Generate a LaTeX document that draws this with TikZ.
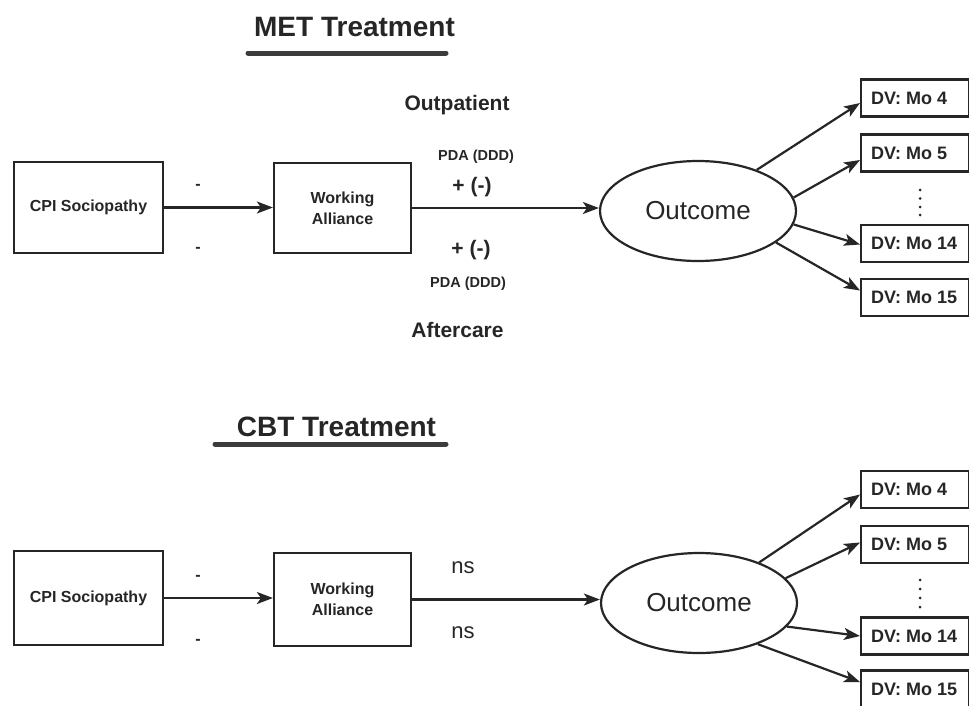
\documentclass[tikz,border=0pt]{standalone}
\usepackage{fontspec}
\setmainfont{Liberation Sans}
\usetikzlibrary{shapes.geometric,arrows.meta}
\definecolor{ink}{HTML}{262626}
\newcommand{\dvtext}[1]{\makebox[88pt][l]{#1}}
\begin{document}
\begin{tikzpicture}[x=1pt,y=-1pt,
  every node/.style={text=ink},
  box/.style={draw=ink, line width=2.2pt, inner sep=0pt, align=center,
    font=\bfseries\fontsize{16}{21}\selectfont},
  dvbox/.style={draw=ink, line width=2.2pt, anchor=west, minimum width=108pt,
    inner xsep=10pt, inner ysep=0pt, minimum height=37pt,
    font=\bfseries\fontsize{18}{20}\selectfont},
  outc/.style={ellipse, draw=ink, line width=2.2pt, inner sep=0pt,
    minimum width=196pt, minimum height=100pt,
    font=\fontsize{26}{28}\selectfont},
  arr/.style={draw=ink, line width=2.2pt,
    -{Stealth[length=16pt,width=12pt,inset=4pt]}},
  title/.style={font=\bfseries\fontsize{28}{30}\selectfont},
  bar/.style={draw=ink!90, line width=5pt, line cap=round},
  lbl/.style={font=\bfseries\fontsize{21}{24}\selectfont},
  small/.style={font=\bfseries\fontsize{14.5}{16}\selectfont},
  sign/.style={font=\bfseries\fontsize{16}{18}\selectfont},
  nsl/.style={font=\fontsize{22}{24}\selectfont},
  vdots/.style={fill=ink, circle, inner sep=0pt, minimum size=3pt}
]
\useasboundingbox (0,0) rectangle (969,705);

% ===================== MET =====================
\node[title] (t1) at (354.5,27) {MET Treatment};
\coordinate (b1l) at (248,53);
\coordinate (b1r) at (446,53);
\draw[bar] (b1l) -- (b1r);

\node[box, minimum width=149pt, minimum height=91pt] (cpi1) at (88.5,207.5) {CPI Sociopathy};
\node[box, minimum width=137pt, minimum height=90pt] (wa1) at (342.5,208) {Working\\Alliance};
\node[outc] (o1) at (698,211) {Outcome};

\node[dvbox] (d11) at (860,98) {\dvtext{DV: Mo 4}};
\node[dvbox] (d12) at (860,153) {\dvtext{DV: Mo 5}};
\node[dvbox] (d13) at (860,243.5) {\dvtext{DV: Mo 14}};
\node[dvbox] (d14) at (860,297.5) {\dvtext{DV: Mo 15}};

\draw[arr] (cpi1.east) -- (cpi1.east -| wa1.west);
\draw[arr] (wa1.east) -- (wa1.east -| o1.west);

\draw[arr] (o1.35) -- ([yshift=-5pt]d11.west);
\draw[arr] (o1.8) -- ([yshift=-7pt]d12.west);
\draw[arr] (o1.-8) -- ([yshift=-1pt]d13.west);
\draw[arr] (o1.-22) -- ([yshift=7pt]d14.west);

\node[sign] (m11) at (198,187) {-};
\node[sign] (m12) at (198,250) {-};
\node[lbl] (op) at (457,105) {Outpatient};
\node[small] (p11) at (476,157) {PDA (DDD)};
\node[lbl] (s11) at (472,187) {+ (-)};
\node[lbl] (s12) at (471,250) {+ (-)};
\node[small] (p12) at (468,284) {PDA (DDD)};
\node[lbl] (ac) at (457.5,330) {Aftercare};

\foreach \yy [count=\i] in {190,198.5,207,215}
  \node[vdots] (dt1\i) at (920,\yy) {};

% ===================== CBT =====================
\node[title] (t2) at (336.5,427) {CBT Treatment};
\coordinate (b2l) at (215,444);
\coordinate (b2r) at (446,444);
\draw[bar] (b2l) -- (b2r);

\node[box, minimum width=149pt, minimum height=94pt] (cpi2) at (88.5,598) {CPI Sociopathy};
\node[box, minimum width=137pt, minimum height=93pt] (wa2) at (342.5,599.5) {Working\\Alliance};
\node[outc] (o2) at (699,603) {Outcome};

\node[dvbox] (d21) at (860,489.5) {\dvtext{DV: Mo 4}};
\node[dvbox] (d22) at (860,544.5) {\dvtext{DV: Mo 5}};
\node[dvbox] (d23) at (860,636) {\dvtext{DV: Mo 14}};
\node[dvbox] (d24) at (860,689) {\dvtext{DV: Mo 15}};

\draw[arr] (cpi2.east) -- (cpi2.east -| wa2.west);
\draw[arr] (wa2.east) -- (wa2.east -| o2.west);

\draw[arr] (o2.34) -- ([yshift=-5pt]d21.west);
\draw[arr] (o2.16) -- ([yshift=2pt]d22.west);
\draw[arr] (o2.-15) -- (d23.west);
\draw[arr] (o2.-35) -- ([yshift=7pt]d24.west);

\node[sign] (m21) at (198,578) {-};
\node[sign] (m22) at (198,642) {-};
\node[nsl] (ns1) at (463,568) {ns};
\node[nsl] (ns2) at (463,633) {ns};

\foreach \yy [count=\i] in {580,589,598,607}
  \node[vdots] (dt2\i) at (920,\yy) {};
\end{tikzpicture}
\end{document}
